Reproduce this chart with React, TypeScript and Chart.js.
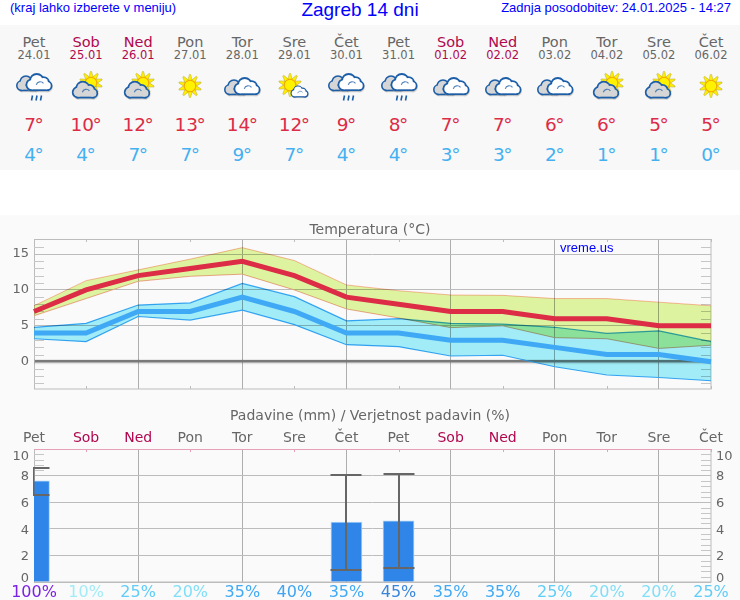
import React, { useEffect, useRef } from "react";
import { Chart, registerables } from "chart.js";

// Band fills multiply over each other and the grid: must run before the filler plugin.
const bandBlend = {
  id: "bandBlend",
  beforeDatasetDraw(chart: any, args: any) {
    if (chart.data.datasets[args.index].fill) chart.ctx.globalCompositeOperation = "multiply";
  },
  afterDatasetDraw(chart: any) {
    chart.ctx.globalCompositeOperation = "source-over";
  },
};
Chart.register(bandBlend);
Chart.register(...registerables);

const days = ["Pet", "Sob", "Ned", "Pon", "Tor", "Sre", "Čet", "Pet", "Sob", "Ned", "Pon", "Tor", "Sre", "Čet"];
const dates = ["24.01", "25.01", "26.01", "27.01", "28.01", "29.01", "30.01", "31.01", "01.02", "02.02", "03.02", "04.02", "05.02", "06.02"];
const icons = ["rain", "partly", "partly", "sun", "cloud", "sunCloud", "rain", "rain", "cloud", "cloud", "cloud", "partly", "partly", "sun"];
const tempHigh = [7, 10, 12, 13, 14, 12, 9, 8, 7, 7, 6, 6, 5, 5];
const tempLow = [4, 4, 7, 7, 9, 7, 4, 4, 3, 3, 2, 1, 1, 0];
const highBandTop = [7.8, 11.3, 12.8, 14.3, 15.9, 14.1, 10.7, 9.9, 9.3, 9.25, 8.8, 8.8, 8.3, 7.8];
const highBandBottom = [6.4, 8.8, 11.2, 11.9, 12.2, 10, 7.35, 6.1, 4.75, 5, 3.35, 3.2, 1.85, 2.3];
const lowBandTop = [4.8, 5.35, 7.9, 8.2, 10.9, 9.07, 5.7, 6, 5.35, 5.25, 4.8, 3.95, 4.3, 2.8];
const lowBandBottom = [3.2, 2.8, 6.3, 5.8, 7.2, 5.16, 2.37, 2.1, 0.8, 0.9, -0.7, -1.85, -2.2, -2.65];
const zeroLine = [0, 0, 0, 0, 0, 0, 0, 0, 0, 0, 0, 0, 0, 0];
const rainAmount = [7.6, 0, 0, 0, 0, 0, 4.5, 4.6, 0, 0, 0, 0, 0, 0];
const rainMax = [8.6, null, null, null, null, null, 8.03, 8.1, null, null, null, null, null, null];
const rainMin = [6.55, null, null, null, null, null, 0.91, 1.06, null, null, null, null, null, null];
const rainChance = ["100%", "10%", "25%", "20%", "35%", "40%", "35%", "45%", "35%", "35%", "25%", "20%", "20%", "25%"];
const rainChanceColors = ["#7b22e6", "#a3ecf7", "#5fcdf8", "#80def8", "#40aaf5", "#40a4f2", "#40aaf5", "#3a85dc", "#40aaf5", "#40aaf5", "#5fcdf8", "#80def8", "#80def8", "#5fcdf8"];

const FONT = "'DejaVu Sans'";
const GREY = "#666666";
const WEEKEND = "#b0084e";
const isWeekend = (i: number) => days[i] === "Sob" || days[i] === "Ned";
const colX = (i: number) => 34 + (i * 677) / 13;

const minorTempTicks = [-3, -2, -1, 1, 2, 3, 4, 6, 7, 8, 9, 11, 12, 13, 14, 16];
const minorRainTicks = [0.4, 0.8, 1.2, 1.6, 2.4, 2.8, 3.2, 3.6, 4.4, 4.8, 5.2, 5.6, 6.4, 6.8, 7.2, 7.6, 8.4, 8.8, 9.2, 9.6];

function minorTicks(chart: any, scale: any, values: number[]) {
  const { ctx, chartArea: a } = chart;
  ctx.save();
  ctx.strokeStyle = "#c6c6c6";
  ctx.lineWidth = 1;
  ctx.beginPath();
  for (const v of values) {
    const y = Math.round(scale.getPixelForValue(v)) + 0.5;
    ctx.moveTo(a.left, y);
    ctx.lineTo(a.left + 10, y);
    ctx.moveTo(a.right - 10, y);
    ctx.lineTo(a.right, y);
  }
  ctx.stroke();
  ctx.restore();
}

function shortXTicks(chart: any, color: string, bottom: boolean) {
  const { ctx, chartArea: a, scales } = chart;
  ctx.save();
  ctx.strokeStyle = color;
  ctx.lineWidth = 1;
  ctx.beginPath();
  days.forEach((_, i) => {
    if (i % 2 === 0) return;
    const x = Math.round(scales.x.getPixelForValue(i)) + 0.5;
    ctx.moveTo(x, a.top);
    ctx.lineTo(x, a.top + 3);
    if (bottom) {
      ctx.moveTo(x, a.bottom);
      ctx.lineTo(x, a.bottom - 3);
    }
  });
  ctx.stroke();
  ctx.restore();
}

function frame(chart: any, topColor: string) {
  const { ctx, chartArea: a } = chart;
  ctx.save();
  ctx.lineWidth = 1;
  ctx.strokeStyle = "#bcbcbc";
  ctx.strokeRect(a.left + 0.5, a.top + 0.5, a.right - a.left - 0.5, a.bottom - a.top - 0.5);
  ctx.strokeStyle = topColor;
  ctx.beginPath();
  ctx.moveTo(a.left, a.top + 0.5);
  ctx.lineTo(a.right, a.top + 0.5);
  ctx.stroke();
  ctx.restore();
}

const tempDecor = {
  id: "tempDecor",
  beforeDatasetsDraw(chart: any) {
    frame(chart, "#bcbcbc");
    minorTicks(chart, chart.scales.y, minorTempTicks);
    shortXTicks(chart, "#bcbcbc", true);
  },
};

const rainDecor = {
  id: "rainDecor",
  beforeDatasetsDraw(chart: any) {
    frame(chart, "#e6a0b8");
    minorTicks(chart, chart.scales.y, minorRainTicks);
    shortXTicks(chart, "#e6a0b8", false);
    const { ctx, chartArea: a, scales } = chart;
    ctx.save();
    ctx.font = `13px ${FONT}`;
    ctx.fillStyle = GREY;
    ctx.textBaseline = "middle";
    for (const t of scales.y.ticks) {
      const px = scales.y.getPixelForValue(t.value);
      const y = Math.min(Math.max(px, a.top + 6), a.bottom - 5) + 1.5;
      ctx.textAlign = "right";
      ctx.fillText(String(t.value), 29, y);
      ctx.textAlign = "left";
      ctx.fillText(String(t.value), a.right + 5, y);
    }
    ctx.restore();
  },
  afterDatasetsDraw(chart: any) {
    const { ctx, chartArea: a, scales } = chart;
    ctx.save();
    ctx.beginPath();
    ctx.rect(a.left - 1, 0, a.right - a.left + 2, chart.height);
    ctx.clip();
    ctx.strokeStyle = "#666666";
    ctx.lineWidth = 2;
    rainMax.forEach((hi, i) => {
      const lo = rainMin[i];
      if (hi === null || lo === null) return;
      const x = Math.round(scales.x.getPixelForValue(i));
      const yHi = Math.round(scales.y.getPixelForValue(hi));
      const yLo = Math.round(scales.y.getPixelForValue(lo));
      const sx = i === 0 ? x - 0.5 : x;
      ctx.beginPath();
      ctx.moveTo(sx, yHi);
      ctx.lineTo(sx, yLo);
      ctx.moveTo(x - 15.5, yHi);
      ctx.lineTo(x + 15.5, yHi);
      ctx.moveTo(x - 15.5, yLo);
      ctx.lineTo(x + 15.5, yLo);
      ctx.stroke();
    });
    ctx.restore();
  },
};

function CloudShape({ x, y, s, fill }: { x: number; y: number; s: number; fill: string }) {
  const parts = (extra: any) => (
    <g {...extra}>
      <circle cx={-8} cy={2} r={5} />
      <circle cx={-2.5} cy={-2.5} r={6.5} />
      <circle cx={5} cy={-0.5} r={5} />
      <circle cx={9} cy={3} r={4} />
      <rect x={-8} y={2} width={17} height={5} />
    </g>
  );
  return (
    <g transform={`translate(${x} ${y}) scale(${s})`}>
      {parts({ fill: "#a8a39a", stroke: "#a8a39a", strokeWidth: 3.6, transform: "translate(0.6 1.4)", opacity: 0.5 })}
      {parts({ fill: "#1c5ea8", stroke: "#1c5ea8", strokeWidth: 4 })}
      {parts({ fill })}
      <path d="M-3 2a4.5 4.5 0 0 1 8-1.5" fill="none" stroke="#1c5ea8" strokeWidth={1.3} opacity={0.75} />
    </g>
  );
}

const rayAngles = [0, 36, 72, 108, 144, 180, 216, 252, 288, 324];

function Sun({ x, y, s }: { x: number; y: number; s: number }) {
  return (
    <g transform={`translate(${x} ${y}) scale(${s})`}>
      {rayAngles.map((a) => (
        <path key={a} transform={`rotate(${a})`} d="M-2.3-5 L-0.6-11.5 L0.6-11.5 L2.3-5Z" fill="#fff000" stroke="#b8aa40" strokeWidth={0.5} />
      ))}
      <circle r={5.8} fill="#fff200" stroke="#f5a800" strokeWidth={1.1} />
    </g>
  );
}

function WeatherIcon({ kind }: { kind: string }) {
  let body: React.ReactNode = null;
  if (kind === "sun") body = <Sun x={0} y={-1} s={1} />;
  if (kind === "partly")
    body = (
      <>
        <Sun x={5} y={-4} s={1} />
        <CloudShape x={-1} y={3.5} s={0.88} fill="#d6d6d6" />
      </>
    );
  if (kind === "sunCloud")
    body = (
      <>
        <Sun x={-4} y={-2} s={1} />
        <CloudShape x={5.5} y={5} s={0.6} fill="#ffffff" />
      </>
    );
  if (kind === "cloud" || kind === "rain") {
    const dy = kind === "rain" ? -4 : 0;
    body = (
      <>
        <CloudShape x={-6} y={dy + 1} s={0.8} fill="#d6d6d6" />
        <CloudShape x={5} y={dy} s={0.9} fill="#ffffff" />
        {kind === "rain" && (
          <path d="M-1.5 8.5l-1 5M3 8.5l-1 5M7.5 8.5l-1 5" stroke="#1c5ea8" strokeWidth={1.6} fill="none" />
        )}
      </>
    );
  }
  return (
    <svg width={40} height={36} viewBox="-20 -18 40 36" style={{ display: "block" }}>
      {body}
    </svg>
  );
}

const abs = (s: React.CSSProperties): React.CSSProperties => ({ position: "absolute", whiteSpace: "nowrap", ...s });
const centred = (x: number, y: number, size: number, color: string): React.CSSProperties =>
  abs({ left: x - 40, width: 80, top: y - size, lineHeight: `${size * 2}px`, textAlign: "center", fontSize: size, color, fontFamily: FONT });

export default function App() {
  const tempRef = useRef<HTMLCanvasElement>(null);
  const rainRef = useRef<HTMLCanvasElement>(null);

  useEffect(() => {
    const oddHidden = (c: any) => (c.index % 2 === 0 ? "#adadad" : "transparent");
    const line = (label: string, data: number[], color: string, width: number, fill: any = false) => ({
      label,
      data,
      borderColor: color,
      borderWidth: width,
      backgroundColor: fill ? fill.color : "transparent",
      fill: fill ? fill.target : false,
      pointRadius: 0,
      tension: 0,
      borderJoinStyle: "miter" as const,
    });

    const temp = new Chart(tempRef.current!, {
      type: "line",
      data: {
        labels: days,
        datasets: [
          line("Maks", tempHigh, "#dc2c46", 5),
          line("Min", tempLow, "#3fa9f5", 5),
          line("Ničla", zeroLine, "rgba(0,0,0,0.09)", 5),
          line("Min zgoraj", lowBandTop, "#3fa9f5", 1.2, { color: "#a1ecf6", target: "+1" }),
          line("Min spodaj", lowBandBottom, "#3fa9f5", 1.2),
          line("Maks zgoraj", highBandTop, "#ffb8a8", 1, { color: "#ddf3a0", target: "+1" }),
          line("Maks spodaj", highBandBottom, "#f4a898", 1),
        ],
      },
      options: {
        responsive: false,
        devicePixelRatio: 1,
        animation: false,
        layout: { padding: { bottom: 11 } },
        plugins: {
          legend: { display: false },
          tooltip: { enabled: false },
          title: {
            display: true,
            text: "Temperatura (°C)",
            color: GREY,
            font: { family: FONT, size: 14, weight: "normal" },
            padding: { top: 6.5, bottom: 0.7 },
          },
        },
        scales: {
          x: {
            offset: false,
            afterFit: (s: any) => { s.height = 0; },
            ticks: { display: false, autoSkip: false },
            border: { display: false },
            grid: { color: oddHidden, drawTicks: false, offset: false },
          },
          y: {
            min: -3.8,
            max: 17.1,
            afterFit: (s: any) => { s.width = 34; s.paddingTop = 0; s.paddingBottom = 0; },
            ticks: {
              stepSize: 1,
              autoSkip: false,
              padding: 5,
              color: GREY,
              font: { family: FONT, size: 13 },
              callback: (v: any) => (Number.isInteger(v) && v % 5 === 0 ? String(v) : ""),
            },
            border: { display: false },
            grid: {
              drawTicks: false,
              color: (c: any) => {
                const v = c.tick.value;
                if (v === 0) return "#868686";
                return Number.isInteger(v) && v % 5 === 0 ? "#bcbcbc" : "transparent";
              },
              lineWidth: (c: any) => (c.tick.value === 0 ? 2.5 : 1),
            },
          },
          yRight: {
            position: "right",
            min: -3.8,
            max: 17.1,
            afterFit: (s: any) => { s.width = 29; s.paddingTop = 0; s.paddingBottom = 0; },
            ticks: { display: false },
            border: { display: false },
            grid: { display: false, drawTicks: false },
          },
        },
      },
      plugins: [tempDecor],
    } as any);

    const rain = new Chart(rainRef.current!, {
      type: "bar",
      data: {
        labels: days,
        datasets: [
          {
            label: "Padavine",
            data: rainAmount,
            backgroundColor: "#2f86e8",
            borderColor: "#a9d2f6",
            borderWidth: 1,
            borderSkipped: "bottom",
            barThickness: 31,
            xAxisID: "x",
            yAxisID: "y",
          },
        ],
      },
      options: {
        responsive: false,
        devicePixelRatio: 1,
        animation: false,
        layout: { padding: { right: 0, bottom: 0 } },
        plugins: {
          legend: { display: false },
          tooltip: { enabled: false },
          title: {
            display: true,
            text: "Padavine (mm) / Verjetnost padavin (%)",
            color: GREY,
            font: { family: FONT, size: 14, weight: "normal" },
            padding: { top: 7.5, bottom: 2 },
          },
        },
        scales: {
          x: {
            type: "category",
            position: "top",
            offset: false,
            afterFit: (s: any) => { s.height = 22.7; },
            ticks: {
              autoSkip: false,
              maxRotation: 0,
              padding: 2,
              color: (c: any) => (isWeekend(c.index) ? WEEKEND : GREY),
              font: { family: FONT, size: 14 },
            },
            border: { display: false },
            grid: { color: oddHidden, drawTicks: false, offset: false },
          },
          xChance: {
            type: "category",
            position: "bottom",
            labels: rainChance,
            offset: false,
            afterFit: (s: any) => { s.height = 18; },
            ticks: {
              autoSkip: false,
              maxRotation: 0,
              padding: 1,
              color: (c: any) => rainChanceColors[c.index],
              font: { family: FONT, size: 16 },
            },
            border: { display: false },
            grid: { display: false, drawTicks: false, offset: false },
          },
          y: {
            position: "left",
            min: 0,
            max: 10,
            afterFit: (s: any) => { s.width = 34; },
            ticks: { stepSize: 2, display: false },
            border: { display: false },
            grid: { drawTicks: false, color: "#bcbcbc" },
          },
          yRight: {
            position: "right",
            min: 0,
            max: 10,
            afterFit: (s: any) => { s.width = 29; },
            ticks: { stepSize: 2, display: false },
            border: { display: false },
            grid: { display: false, drawTicks: false },
          },
        },
      },
      plugins: [rainDecor],
    } as any);

    return () => {
      temp.destroy();
      rain.destroy();
    };
  }, []);

  const link = "#0000ff";
  const sans = "'Liberation Sans'";
  return (
    <div style={abs({ left: 0, top: 0, width: 740, height: 600, background: "#ffffff", overflow: "hidden" })}>
      <div style={abs({ left: 10, top: 0, lineHeight: "15px", fontSize: 13, color: link, fontFamily: sans })}>(kraj lahko izberete v meniju)</div>
      <div style={abs({ left: 0, width: 720, top: -1, lineHeight: "22px", textAlign: "center", fontSize: 19, color: link, fontFamily: sans })}>Zagreb 14 dni</div>
      <div style={abs({ right: 9, top: 0, lineHeight: "15px", fontSize: 13, color: link, fontFamily: sans })}>Zadnja posodobitev: 24.01.2025 - 14:27</div>

      <div style={abs({ left: 0, top: 25, width: 740, height: 145, background: "#f8f8f8" })} />
      {days.map((d, i) => {
        const c = isWeekend(i) ? WEEKEND : GREY;
        return (
          <React.Fragment key={i}>
            <div style={centred(colX(i), 42.5, 14.5, c)}>{d}</div>
            <div style={centred(colX(i), 55.5, 11.5, c)}>{dates[i]}</div>
            <div style={abs({ left: colX(i) - 20, top: 69 })}><WeatherIcon kind={icons[i]} /></div>
            <div style={centred(colX(i), 124.5, 18.5, "#dc2c46")}>{tempHigh[i]}<span style={{ marginLeft: -1.5 }}>°</span></div>
            <div style={centred(colX(i), 154.5, 18.5, "#45b0f0")}>{tempLow[i]}<span style={{ marginLeft: -1.5 }}>°</span></div>
          </React.Fragment>
        );
      })}

      <div style={abs({ left: 0, top: 215, width: 740, height: 385, background: "#fafafa" })} />
      <canvas ref={tempRef} width={740} height={185} style={abs({ left: 0, top: 215, display: "block" })} />
      <canvas ref={rainRef} width={740} height={200} style={abs({ left: 0, top: 400, display: "block" })} />
      <div style={abs({ left: 560, top: 241, lineHeight: "14px", fontSize: 13, color: link, fontFamily: sans })}>vreme.us</div>
    </div>
  );
}
